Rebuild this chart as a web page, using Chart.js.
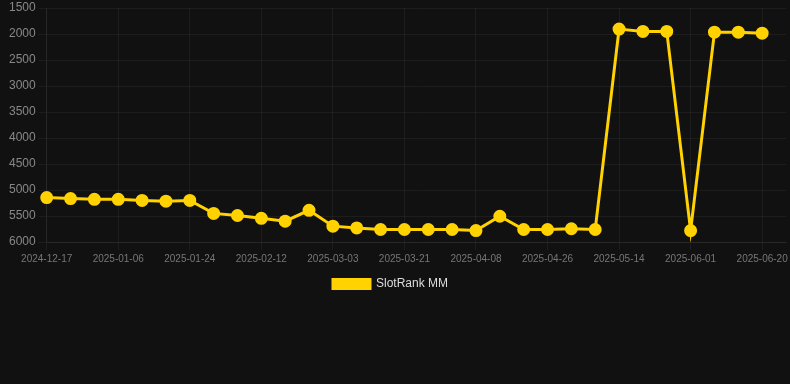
<!DOCTYPE html>
<html>
<head>
<meta charset="utf-8">
<script src="https://cdn.jsdelivr.net/npm/chart.js@4/dist/chart.umd.min.js"></script>
<style>
  html, body { margin: 0; padding: 0; background: #111111; overflow: hidden; }
  #wrap { width: 794px; height: 300px; position: relative; }
</style>
</head>
<body>
<div id="wrap"><canvas id="rankChart"></canvas></div>
<script>
// dates on the x axis (last one has no value yet)
const dates = [
    '2024-12-17', '2024-12-24', '2024-12-30', '2025-01-06', '2025-01-12', '2025-01-18',
    '2025-01-24', '2025-01-30', '2025-02-05', '2025-02-12', '2025-02-18', '2025-02-24',
    '2025-03-03', '2025-03-09', '2025-03-15', '2025-03-21', '2025-03-27', '2025-04-02',
    '2025-04-08', '2025-04-14', '2025-04-20', '2025-04-26', '2025-05-02', '2025-05-08',
    '2025-05-14', '2025-05-20', '2025-05-26', '2025-06-01', '2025-06-07', '2025-06-13',
    '2025-06-20', '2025-06-26'
];
// rank values (lower is better, axis reversed)
const rankMM = [
    5145, 5165, 5180, 5180, 5200, 5215,
    5200, 5450, 5490, 5545, 5600, 5390,
    5695, 5730, 5760, 5760, 5760, 5760,
    5780, 5505, 5760, 5760, 5745, 5760,
    1905, 1950, 1950, 5780, 1965, 1965,
    1985
];
const seriesName = 'SlotRank MM';

const gridColor = 'rgba(255,255,255,0.05)';
const FONT = 'Arial, Liberation Sans, sans-serif';

// nudge legend a little to the left like the original
const legendShift = {
    id: 'legendShift',
    afterLayout(chart) {
        if (chart.legend) chart.legend.right -= 19;
    }
};

const ctx = document.getElementById('rankChart').getContext('2d');
new Chart(ctx, {
    type: 'line',
    data: {
        labels: dates,
        datasets: [{
            label: seriesName,
            data: rankMM,
            borderColor: '#ffd200',
            backgroundColor: '#ffd200',
            borderWidth: 3,
            pointRadius: 5,
            pointBackgroundColor: '#ffd200',
            pointBorderColor: '#ffd200',
            tension: 0,
            fill: false
        }]
    },
    options: {
        responsive: true,
        maintainAspectRatio: false,
        animation: false,
        layout: { padding: { left: 6, right: 0 } },
        scales: {
            x: {
                grid: {
                    color: (c) => (c.index % 3 === 0 ? gridColor : 'transparent')
                },
                border: { color: gridColor },
                ticks: {
                    color: '#777777',
                    font: { size: 10, family: FONT },
                    maxRotation: 0,
                    autoSkip: false,
                    callback: function(val, i) { return i % 3 === 0 && i < 31 ? this.getLabelForValue(val) : ''; }
                }
            },
            y: {
                reverse: true,
                min: 1500,
                max: 6000,
                grid: { color: gridColor },
                border: { color: gridColor },
                ticks: {
                    stepSize: 500,
                    color: '#888888',
                    font: { size: 12, family: FONT, lineHeight: 0.5 },
                    callback: (v) => String(v)
                }
            }
        },
        plugins: {
            legend: {
                position: 'bottom',
                labels: {
                    color: '#dddddd',
                    boxWidth: 37,
                    boxHeight: 9,
                    font: { size: 12, family: FONT }
                }
            },
            tooltip: { enabled: false }
        }
    },
    plugins: [legendShift]
});
</script>
</body>
</html>
